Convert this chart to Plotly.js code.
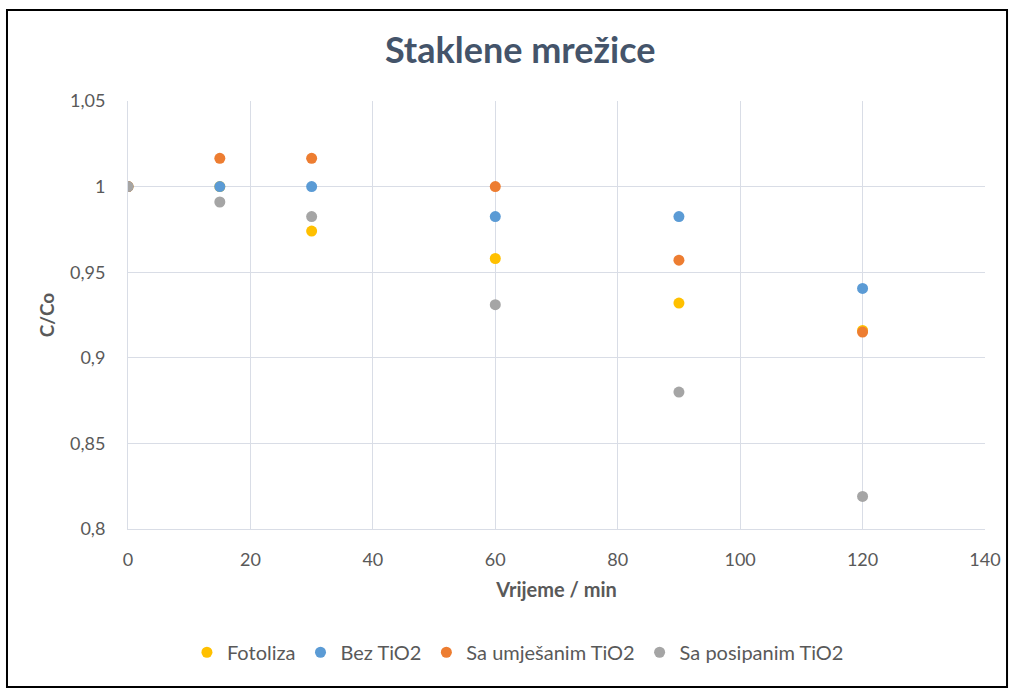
<!DOCTYPE html>
<html>
<head>
<meta charset="utf-8">
<script src="https://cdn.plot.ly/plotly-3.0.1.min.js"></script>
<style>html,body{margin:0;padding:0;background:#fff;}#chart{width:1014px;height:689px;}</style>
</head>
<body>
<div id="chart"></div>
<script>
const time = [0, 15, 30, 60, 90, 120];
const fotoliza = [1.0, 1.0, 0.974, 0.958, 0.932, 0.916];
const bezTiO2 = [1.0, 1.0, 1.0, 0.9825, 0.9825, 0.9405];
const umjesanim = [1.0, 1.0165, 1.0165, 1.0, 0.957, 0.915];
const posipanim = [1.0, 0.991, 0.9825, 0.931, 0.880, 0.819];
const seriesNames = ['Fotoliza', 'Bez TiO2', 'Sa umješanim TiO2', 'Sa posipanim TiO2'];
const seriesColors = ['#ffc000', '#5b9bd5', '#ed7d31', '#a5a5a5'];
const seriesData = [fotoliza, bezTiO2, umjesanim, posipanim];

const font = 'Lato, "Open Sans", sans-serif';
const traces = seriesData.map((d, i) => ({
  x: time, y: d, type: 'scatter', mode: 'markers', name: seriesNames[i],
  marker: {color: seriesColors[i], size: 11}
}));

const layout = {
  width: 1014, height: 689,
  separators: ', ',
  margin: {l: 128, r: 29, t: 101, b: 160},
  paper_bgcolor: '#fff', plot_bgcolor: '#fff',
  title: {text: '<b>Staklene mrežice</b>', x: 0.513, xanchor: 'center', y: 0.927, yanchor: 'middle',
    font: {family: font, size: 36, color: '#44546a'}},
  xaxis: {range: [0, 140], dtick: 20, tick0: 0, showgrid: true, gridcolor: '#d9dde6', gridwidth: 1,
    zeroline: false, showline: true, linecolor: '#d9dde6', ticks: '', ticklabelstandoff: 14,
    tickfont: {family: font, size: 18, color: '#595959'},
    title: {text: '<b>Vrijeme / min</b>', font: {family: font, size: 20, color: '#595959'}, standoff: 14}},
  yaxis: {range: [0.8, 1.05], dtick: 0.05, tick0: 0.8, showgrid: true, gridcolor: '#d9dde6', gridwidth: 1,
    zeroline: false, showline: true, linecolor: '#d9dde6', ticks: '',
    tickfont: {family: font, size: 18, color: '#595959'}, ticklabelstandoff: 18,
    title: {text: '<b>C/Co</b>', font: {family: font, size: 19, color: '#595959'}, standoff: 10}},
  legend: {orientation: 'h', x: 0.455, xanchor: 'center', y: -0.288, yanchor: 'middle',
    font: {family: font, size: 20, color: '#595959'}, itemwidth: 20, traceorder: 'normal'},
  shapes: [{type: 'rect', xref: 'paper', yref: 'paper', x0: -0.1412, x1: 1.0257, y0: -0.369, y1: 1.2126,
    line: {color: '#000', width: 2}, layer: 'below'}]
};
Plotly.newPlot('chart', traces, layout, {displayModeBar: false});
</script>
</body>
</html>
